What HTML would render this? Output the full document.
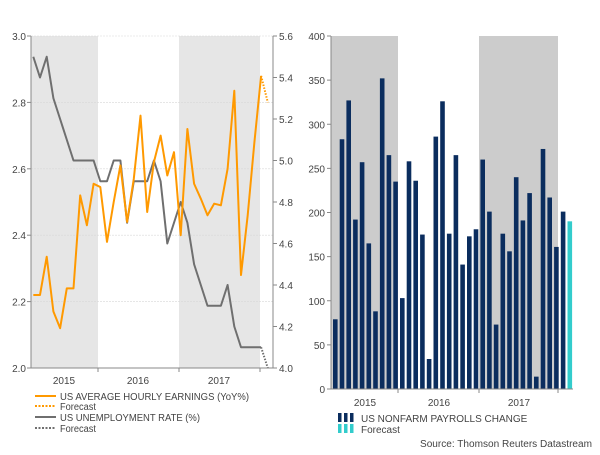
<!DOCTYPE html>
<html><head><meta charset="utf-8"><style>
body{margin:0;background:#fff;width:600px;height:450px;overflow:hidden;font-family:"Liberation Sans",sans-serif}
svg text{font-family:"Liberation Sans",sans-serif;fill:#444;font-size:10px}
</style></head><body>
<svg id="c" width="600" height="450"></svg>
<script>
const earnings=[2.22,2.22,2.335,2.17,2.12,2.24,2.24,2.52,2.43,2.555,2.545,2.38,2.50,2.61,2.44,2.57,2.76,2.47,2.62,2.70,2.58,2.65,2.40,2.72,2.555,2.51,2.46,2.495,2.49,2.60,2.835,2.28,2.46,2.68,2.88];
const earningsForecast=[2.88,2.80];
const unemployment=[5.5,5.4,5.5,5.3,5.2,5.1,5.0,5.0,5.0,5.0,4.9,4.9,5.0,5.0,4.7,4.9,4.9,4.9,5.0,4.9,4.6,4.7,4.8,4.7,4.5,4.4,4.3,4.3,4.3,4.4,4.2,4.1,4.1,4.1,4.1];
const unemploymentForecast=[4.1,4.0];
const payrolls=[79,283,327,192,257,165,88,352,265,235,103,258,236,175,34,286,326,176,265,141,173,181,260,201,73,176,156,240,191,222,14,272,217,161,201];
const payrollsForecast=[190];
const leftTicks=["2.0","2.2","2.4","2.6","2.8","3.0"];
const rightTicks=["4.0","4.2","4.4","4.6","4.8","5.0","5.2","5.4","5.6"];
const barTicks=["0","50","100","150","200","250","300","350","400"];
const years=["2015","2016","2017"];

const svg=document.getElementById('c');const NS='http://www.w3.org/2000/svg';
function el(t,a,p){const e=document.createElementNS(NS,t);for(const k in a)e.setAttribute(k,a[k]);(p||svg).appendChild(e);return e;}
function txt(x,y,s,anchor,name,len){const t=el('text',{x:x,y:y,'text-anchor':anchor||'start'});t.textContent=s;
if(len){t.setAttribute('textLength',len);t.setAttribute('lengthAdjust','spacingAndGlyphs');}

return t;}

// left chart
const L0=31,L1=273,T=36,B=368,step=6.7,x0=33.3;
const xm=i=>x0+i*step;
const yl=v=>B-(v-2)/1*(B-T);
const yr=v=>B-(v-4)/1.6*(B-T);
let r=el('rect',{x:L0,y:T,width:98-L0,height:B-T,fill:'#e6e6e6'});


r=el('rect',{x:179,y:T,width:260-179,height:B-T,fill:'#e6e6e6'});


leftTicks.forEach((s,i)=>{const v=parseFloat(s);const y=yl(v);
 if(i>0){const g=el('line',{x1:L0,x2:L1,y1:y,y2:y,stroke:'#d8d8d8','stroke-width':0.6,'stroke-dasharray':'2,1'});}
 el('line',{x1:L0-4,x2:L0,y1:y,y2:y,stroke:'#888'});txt(26,y+4,s,'end','left-tick-label');});
rightTicks.forEach(s=>{const y=yr(parseFloat(s));el('line',{x1:L1,x2:L1+4,y1:y,y2:y,stroke:'#888'});txt(279,y+4,s,'start','right-tick-label');});
el('line',{x1:L0,x2:L0,y1:T,y2:B,stroke:'#888'});el('line',{x1:L1,x2:L1,y1:T,y2:B,stroke:'#888'});el('line',{x1:L0,x2:L1,y1:B,y2:B,stroke:'#888'});
[98,179,260].forEach(x=>el('line',{x1:x,x2:x,y1:B,y2:B+4,stroke:'#888'}));
[64,138,219].forEach((x,i)=>txt(x,384,years[i],'middle','x-year-label'));
function line(arr,off,yf,col,dash,name){const p=el('polyline',{points:arr.map((v,i)=>xm(i+off)+','+yf(v)).join(' '),fill:'none',stroke:col,'stroke-width':2,'stroke-dasharray':dash||'none','stroke-linejoin':'round'});}
line(unemployment,0,yr,'#6f6f6f',null,'unemployment-line');
line(unemploymentForecast,unemployment.length-1,yr,'#6f6f6f','1.5,1.5','unemployment-forecast');
line(earnings,0,yl,'#ff9900',null,'earnings-line');
line(earningsForecast,earnings.length-1,yl,'#ff9900','1.5,1.5','earnings-forecast');

// legend left
[[400,'#ff9900',null,'US AVERAGE HOURLY EARNINGS (YoY%)',189],[410,'#ff9900','2,1.5','Forecast',36],[421,'#6f6f6f',null,'US UNEMPLOYMENT RATE (%)',140],[432,'#6f6f6f','2,1.5','Forecast',36]].forEach(a=>{
 el('line',{x1:35,x2:56,y1:a[0]-4,y2:a[0]-4,stroke:a[1],'stroke-width':2,'stroke-dasharray':a[2]||'none'});txt(60,a[0],a[3],'start','legend-entry',a[4]);});

// right chart
const R0=331,R1=573,RT=36,RB=389;
const yb=v=>RB-v/400*(RB-RT);
r=el('rect',{x:R0,y:RT,width:398-R0,height:RB-RT,fill:'#cccccc'});


r=el('rect',{x:479,y:RT,width:558-479,height:RB-RT,fill:'#cccccc'});


barTicks.forEach(s=>{const y=yb(+s);el('line',{x1:R0-4,x2:R0,y1:y,y2:y,stroke:'#888'});txt(325,y+4,s,'end','bar-tick-label');});
const bx=i=>333+i*6.7;
payrolls.forEach((v,i)=>{const b=el('rect',{x:bx(i),y:yb(v),width:4.6,height:RB-yb(v),fill:'#0b2d5e'});

});
payrollsForecast.forEach((v,i)=>{const b=el('rect',{x:bx(payrolls.length+i),y:yb(v),width:4.6,height:RB-yb(v),fill:'#33cccc'});

});
el('line',{x1:R0,x2:R0,y1:RT,y2:RB,stroke:'#888'});el('line',{x1:R0,x2:R1,y1:RB,y2:RB,stroke:'#888'});
[398,479,558].forEach(x=>el('line',{x1:x,x2:x,y1:RB,y2:RB+4,stroke:'#888'}));
[365,439,519].forEach((x,i)=>txt(x,406,years[i],'middle','x-year-label'));
[[422,'#0b2d5e','US NONFARM PAYROLLS CHANGE',158],[433,'#33cccc','Forecast',36]].forEach(a=>{
 [0,6,12].forEach(d=>el('rect',{x:338+d,y:a[0]-9,width:3.5,height:9,fill:a[1]}));txt(361,a[0],a[2],'start','legend-entry',a[4]);});
txt(592,447,'Source: Thomson Reuters Datastream','end','source-note',172);
</script>
</body></html>
